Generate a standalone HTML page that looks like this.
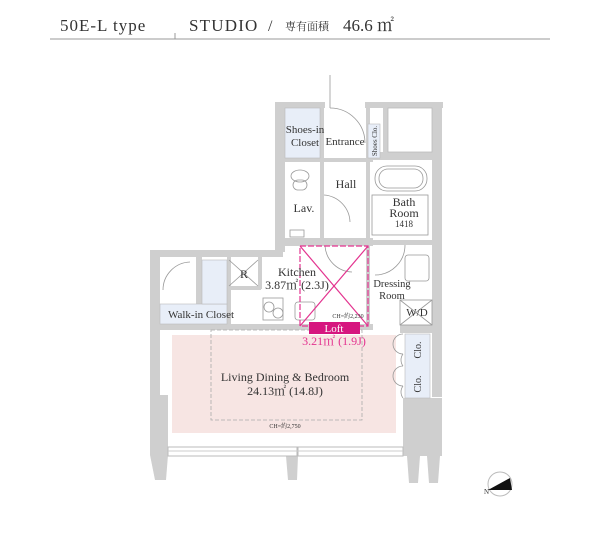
<!DOCTYPE html>
<html><head><meta charset="utf-8"><style>
html,body{margin:0;padding:0;background:#fff;}
svg{display:block;}
text{font-family:"Liberation Serif","Noto Serif CJK SC",serif;fill:#333;}
</style></head><body>
<svg width="600" height="540" viewBox="0 0 600 540" xmlns="http://www.w3.org/2000/svg">
<!-- header -->
<text x="60" y="31" font-size="17" letter-spacing="1" fill="#444">50E-L type</text>
<text x="189" y="31" font-size="17" letter-spacing="1.2" fill="#444">STUDIO</text>
<text x="268" y="31" font-size="16" fill="#444">/</text>
<text x="285" y="30" font-size="11" fill="#444">専有面積</text>
<text x="343" y="31" font-size="17" fill="#444">46.6 ㎡</text>
<line x1="50" y1="39" x2="550" y2="39" stroke="#999" stroke-width="1"/>
<line x1="175" y1="33" x2="175" y2="39" stroke="#999" stroke-width="1"/>

<g fill="#cfcfcf">
<rect x="275" y="102" width="10" height="150"/>
<rect x="275" y="102" width="50" height="6"/>
<rect x="365" y="102" width="20" height="6"/>
<rect x="383" y="102" width="60" height="6"/>
<rect x="432" y="102" width="10" height="295"/>
<rect x="283" y="158" width="90" height="4"/>
<rect x="320" y="108" width="4" height="135"/>
<rect x="366" y="108" width="4" height="220"/>
<rect x="383" y="108" width="5" height="48"/>
<rect x="370" y="152" width="65" height="8"/>
<rect x="283" y="238" width="90" height="8"/>
<rect x="153" y="250" width="130" height="7"/>
<rect x="150" y="250" width="10" height="148"/>
<rect x="196" y="257" width="6" height="50"/>
<rect x="227" y="257" width="4" height="70"/>
<rect x="229" y="286" width="32" height="4"/>
<rect x="258" y="257" width="4" height="32"/>
<rect x="158" y="324" width="215" height="6"/>
<rect x="370" y="240" width="65" height="5"/>
<rect x="400" y="325" width="35" height="8"/>
<rect x="150" y="395" width="18" height="60"/>
<polygon points="150,455 168,455 166,480 155,480"/>
<rect x="403" y="398" width="39" height="58"/>
<polygon points="407,456 420,456 418,483 409,483"/>
<polygon points="427,456 440,456 438,483 429,483"/>
<polygon points="286,456 298,456 297,480 288,480"/>
</g>
<rect x="168" y="447" width="129" height="9" fill="#fff" stroke="#bbb" stroke-width="1"/>
<rect x="298" y="447" width="105" height="9" fill="#fff" stroke="#bbb" stroke-width="1"/>
<line x1="168" y1="451" x2="403" y2="451" stroke="#ccc"/>

<g fill="#e8eef8" stroke="#bbb" stroke-width="0.6">
<rect x="285" y="108" width="35" height="50"/>
<rect x="368" y="124" width="12" height="34"/>
<rect x="160" y="304" width="67" height="20"/>
<rect x="202" y="260" width="25" height="44"/>
<rect x="405" y="334" width="25" height="64"/>
</g>
<rect x="388" y="108" width="44" height="44" fill="#fff" stroke="#bbb" stroke-width="0.8"/>

<rect x="172" y="335" width="224" height="98" fill="#f7e5e3"/>
<rect x="211" y="330" width="151" height="90" fill="none" stroke="#aaa" stroke-width="0.8" stroke-dasharray="4,2"/>

<g fill="none" stroke="#999" stroke-width="0.8">
<ellipse cx="300" cy="176" rx="9" ry="6"/>
<rect x="293" y="180" width="14" height="10" rx="5"/>
<rect x="290" y="230" width="14" height="7"/>
<rect x="375" y="166" width="52" height="25" rx="12"/>
<rect x="379" y="169" width="44" height="19" rx="9"/>
<rect x="372" y="195" width="56" height="40"/>
<rect x="405" y="255" width="24" height="26" rx="3"/>
<rect x="263" y="298" width="20" height="22"/>
<circle cx="269" cy="307" r="5"/><circle cx="278" cy="313" r="5"/>
<rect x="295" y="302" width="20" height="18" rx="3"/>
<path d="M330,108 A35,35 0 0 1 365,143"/>
<line x1="330" y1="75" x2="330" y2="108"/>
<path d="M324,195 A28,28 0 0 1 350,222"/>
<path d="M325,246 A28,28 0 0 0 352,272"/>
<path d="M405,245 A30,30 0 0 1 375,275"/>
<path d="M163,290 A28,28 0 0 1 190,262"/>
<path d="M403,334 A10,10 0 0 0 403,354"/><path d="M403,354 A10,10 0 0 0 403,366"/>
<path d="M403,366 A10,10 0 0 0 403,386"/><path d="M403,386 A10,10 0 0 0 403,398"/>
<rect x="400" y="300" width="32" height="25"/>
<line x1="400" y1="300" x2="432" y2="325"/><line x1="432" y1="300" x2="400" y2="325"/>
<line x1="229" y1="260" x2="258" y2="286"/><line x1="258" y1="260" x2="229" y2="286"/>
</g>

<g stroke="#e3338f" fill="none" stroke-width="1.2">
<rect x="300" y="246" width="68" height="80" stroke-dasharray="6,2"/>
<line x1="300" y1="246" x2="368" y2="326"/>
<line x1="368" y1="246" x2="300" y2="326"/>
</g>
<rect x="309" y="322" width="51" height="12" fill="#d6167f"/>
<text x="334" y="332" font-size="11" text-anchor="middle" style="fill:#fff">Loft</text>
<text x="334" y="345" font-size="12" text-anchor="middle" style="fill:#e3338f">3.21㎡ (1.9J)</text>

<g font-size="11" text-anchor="middle">
<text x="305" y="133">Shoes-in</text>
<text x="305" y="146">Closet</text>
<text x="345" y="145">Entrance</text>
<text x="346" y="188" font-size="12">Hall</text>
<text x="304" y="212" font-size="12">Lav.</text>
<text x="404" y="206" font-size="12">Bath</text>
<text x="404" y="217" font-size="12">Room</text>
<text x="404" y="227" font-size="9">1418</text>
<text x="244" y="278" font-size="12">R</text>
<text x="297" y="276" font-size="12">Kitchen</text>
<text x="297" y="289" font-size="12">3.87㎡ (2.3J)</text>
<text x="392" y="287" font-size="10.5">Dressing</text>
<text x="392" y="299" font-size="10.5">Room</text>
<text x="417" y="316" font-size="11">W/D</text>
<text x="201" y="318" font-size="11">Walk-in Closet</text>
<text x="285" y="381" font-size="12">Living Dining &amp; Bedroom</text>
<text x="285" y="395" font-size="12">24.13㎡ (14.8J)</text>
<text x="285" y="428" font-size="6" fill="#666">CH=約2,750</text>
<text x="348" y="318" font-size="6" fill="#666">CH=約2,230</text>
</g>
<text transform="translate(377,141) rotate(-90)" font-size="7" text-anchor="middle">Shoes Clo.</text>
<text transform="translate(421,350) rotate(-90)" font-size="10" text-anchor="middle">Clo.</text>
<text transform="translate(421,384) rotate(-90)" font-size="10" text-anchor="middle">Clo.</text>

<circle cx="500" cy="484" r="12" fill="none" stroke="#bbb"/>
<polygon points="488,490 510,478 512,490" fill="#111"/>
<text x="484" y="494" font-size="7">N</text>
</svg>
</body></html>
